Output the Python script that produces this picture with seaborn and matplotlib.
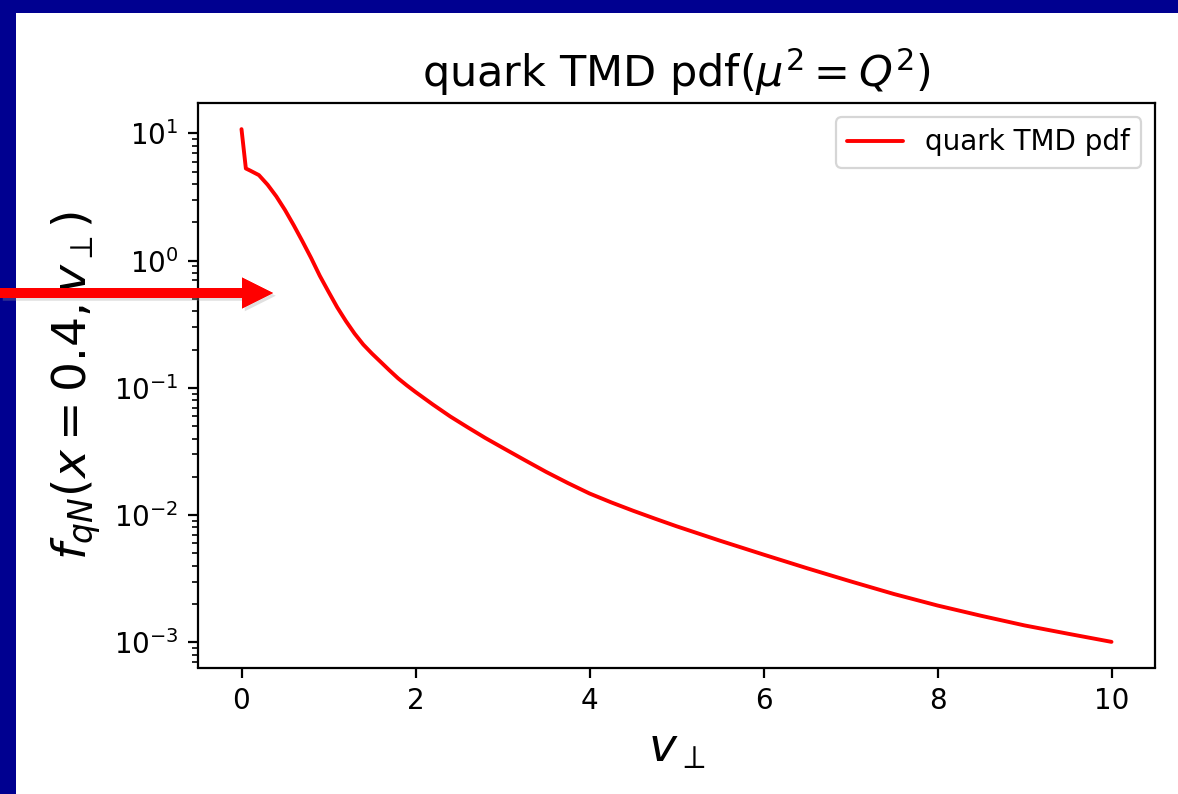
import numpy as np
import pandas as pd
import matplotlib
matplotlib.use("Agg")
import matplotlib.pyplot as plt
import matplotlib.patches as mpatches
import matplotlib.patheffects as pe
from matplotlib.transforms import IdentityTransform
import seaborn as sns

# ---- data ----
v_perp = [0.0, 0.05, 0.1, 0.2, 0.3, 0.4, 0.5, 0.6, 0.7, 0.8, 0.9, 1.0, 1.1, 1.2,
          1.3, 1.4, 1.5, 1.6, 1.7, 1.8, 1.9, 2.0, 2.2, 2.4, 2.6, 2.8, 3.0, 3.25,
          3.5, 3.75, 4.0, 4.25, 4.5, 4.75, 5.0, 5.5, 6.0, 6.5, 7.0, 7.5, 8.0, 8.5,
          9.0, 9.5, 10.0]
f_qN = [10.8, 5.3, 5.1, 4.7, 3.95, 3.2, 2.5, 1.9, 1.42, 1.05, 0.76, 0.57, 0.43, 0.335,
        0.267, 0.219, 0.186, 0.160, 0.1375, 0.1189, 0.1047, 0.0929, 0.074, 0.0596,
        0.049, 0.0405, 0.0339, 0.0272, 0.0219, 0.0179, 0.0148, 0.0126, 0.01084,
        0.0094, 0.00818, 0.0063, 0.0049, 0.00383, 0.00302, 0.0024, 0.00195,
        0.00162, 0.00136, 0.00117, 0.00101]
series_label = "quark TMD pdf"
title_text = r"quark TMD pdf($\mu^2=Q^2$)"
xlabel_text = r"$v_\perp$"
ylabel_text = r"$f_{qN}(x=0.4, v_\perp)$"

sns.set_theme(style="ticks")
plt.rcParams["font.family"] = ["DejaVu Sans"]
plt.rcParams["mathtext.fontset"] = "dejavusans"
plt.rcParams["text.color"] = "black"

W, H, DPI = 1178, 794, 100
fig = plt.figure(figsize=(W / DPI, H / DPI), dpi=DPI, facecolor="#000090")

# slide background: white content area with blue top and left bars
fig.patches.append(mpatches.Rectangle((16 / W, 0), 1 - 16 / W, (H - 13) / H,
                                      transform=fig.transFigure, facecolor="white",
                                      edgecolor="none", zorder=-5))

ax = fig.add_axes([198 / W, (H - 667.5) / H, (1155 - 198) / W, (667.5 - 103.5) / H])
ax.set_zorder(1)
df = pd.DataFrame({"v": v_perp, "f": f_qN})
sns.lineplot(data=df, x="v", y="f", ax=ax, color="red", linewidth=2.8,
             label=series_label, sort=False, estimator=None)
ax.set_yscale("log")
ax.set_xticks([0, 2, 4, 6, 8, 10])

for s in ax.spines.values():
    s.set_linewidth(1.6)
    s.set_color("black")
ax.tick_params(axis="both", which="major", labelsize=20, length=7, width=1.6,
               pad=7, color="black", labelcolor="black")
ax.tick_params(axis="both", which="minor", length=4, width=1.2, color="black")

ax.set_title(title_text, fontsize=31, pad=12, color="black")
ax.set_xlabel(xlabel_text, fontsize=34, color="black", labelpad=8)
ax.set_ylabel(ylabel_text, fontsize=34, color="black", labelpad=8)

leg = ax.legend(loc="upper right", fontsize=20, frameon=True, fancybox=True,
                handlelength=2.0, borderpad=0.4)
leg.get_frame().set_edgecolor("#cccccc")
leg.get_frame().set_linewidth(1.6)
for t in leg.get_texts():
    t.set_color("black")

# red arrow overlay (pixel coordinates, origin bottom-left)
arrow = mpatches.FancyArrow(0, H - 293, 242, 0, width=10, head_width=31,
                            head_length=31, length_includes_head=False,
                            transform=IdentityTransform(), facecolor="#ff0000",
                            edgecolor="none", zorder=10,
                            path_effects=[pe.withSimplePatchShadow(offset=(2, -2),
                                                                   shadow_rgbFace="#999999",
                                                                   alpha=0.3),
                                          pe.Normal()])
fig.add_artist(arrow)

fig.savefig("out.png", dpi=DPI, facecolor=fig.get_facecolor())
